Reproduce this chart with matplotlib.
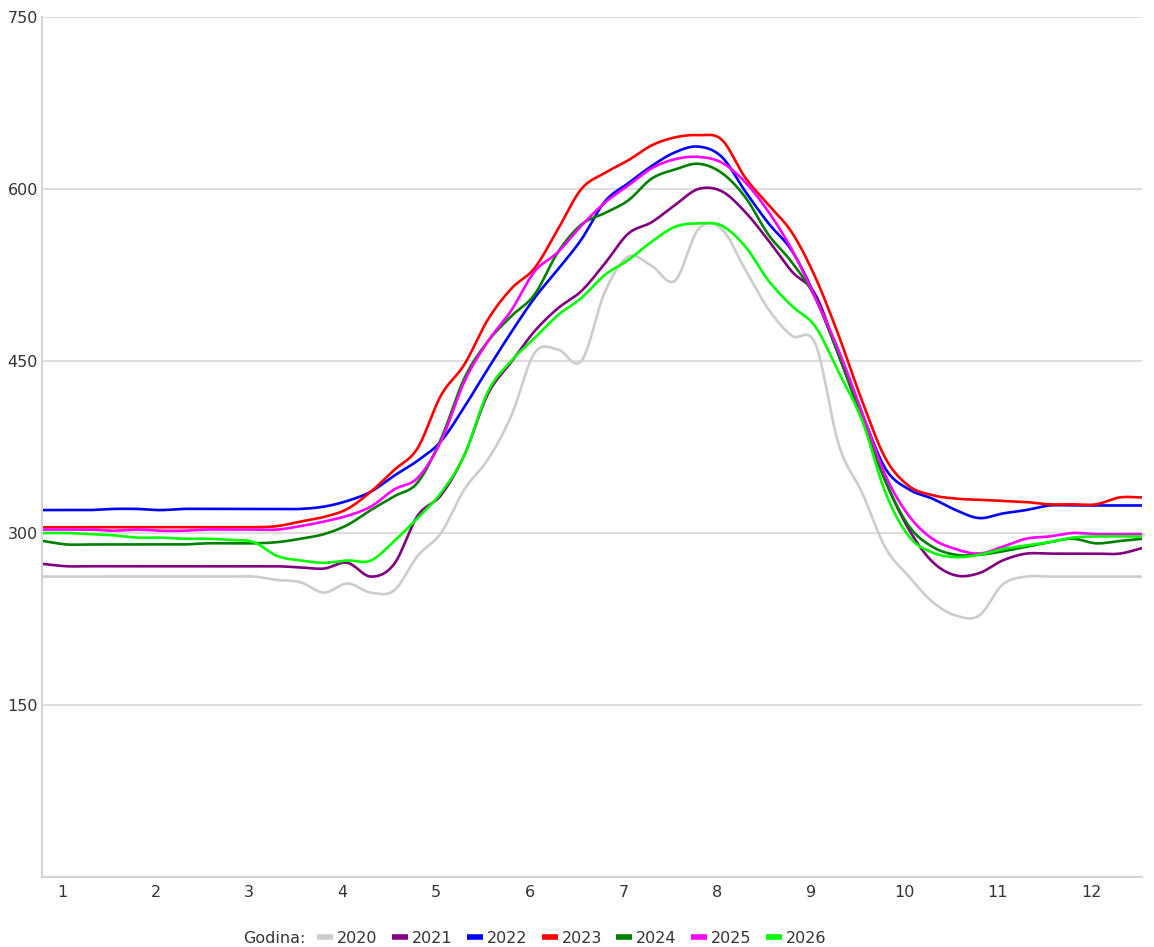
import numpy as np
import matplotlib
matplotlib.use("Agg")
import matplotlib.pyplot as plt

# x grid (months)
months = [0.8 + 0.25 * i for i in range(48)]

s2020 = [262, 262, 262, 262, 262, 262, 262, 262, 262, 262, 259, 257, 248, 256, 248, 250,
         280, 300, 338, 364, 402, 457, 460, 450, 510, 541, 533, 520, 565, 565, 530, 495,
         472, 465, 377, 335, 287, 262, 240, 228, 228, 255, 262, 262, 262, 262, 262, 262]
s2021 = [273, 271, 271, 271, 271, 271, 271, 271, 271, 271, 271, 270, 269, 274, 262, 273,
         315, 333, 368, 421, 449, 476, 496, 511, 535, 561, 571, 586, 600, 598, 580, 555,
         528, 508, 455, 400, 345, 303, 275, 263, 265, 276, 282, 282, 282, 282, 282, 287]
s2022 = [320, 320, 320, 321, 321, 320, 321, 321, 321, 321, 321, 321, 323, 328, 336, 350,
         363, 380, 410, 443, 475, 505, 530, 556, 589, 605, 620, 632, 637, 628, 598, 570,
         546, 506, 455, 404, 356, 338, 330, 320, 313, 317, 320, 324, 324, 324, 324, 324]
s2023 = [305, 305, 305, 305, 305, 305, 305, 305, 305, 305, 306, 310, 314, 321, 336, 355,
         374, 420, 447, 486, 513, 531, 565, 600, 614, 625, 638, 645, 647, 643, 610, 586,
         562, 523, 472, 415, 365, 341, 333, 330, 329, 328, 327, 325, 325, 325, 331, 331]
s2024 = [293, 290, 290, 290, 290, 290, 290, 291, 291, 291, 292, 295, 299, 307, 320, 332,
         344, 382, 435, 467, 489, 508, 545, 569, 579, 590, 609, 617, 622, 614, 593, 560,
         536, 505, 455, 400, 345, 306, 288, 281, 281, 284, 288, 292, 295, 291, 293, 295]
s2025 = [303, 303, 303, 302, 303, 302, 302, 303, 303, 303, 303, 306, 310, 315, 323, 338,
         348, 380, 432, 467, 494, 528, 545, 568, 588, 603, 618, 626, 628, 623, 606, 580,
         547, 505, 459, 405, 350, 315, 295, 286, 282, 288, 295, 297, 300, 299, 299, 299]
s2026 = [300, 300, 299, 298, 296, 296, 295, 295, 294, 292, 280, 276, 274, 276, 276, 293,
         313, 335, 368, 423, 450, 470, 490, 505, 525, 538, 554, 567, 570, 568, 550, 520,
         498, 480, 440, 398, 335, 297, 283, 279, 281, 286, 289, 292, 296, 297, 297, 297]

years = ["2020", "2021", "2022", "2023", "2024", "2025", "2026"]
series = [s2020, s2021, s2022, s2023, s2024, s2025, s2026]
colors = ["#cccccc", "#800080", "#0000ff", "#ff0000", "#008000", "#ff00ff", "#00ff00"]
yticks = [150, 300, 450, 600, 750]
xticks = list(range(1, 13))


def smooth(x, y, n=24):
    x = np.asarray(x, float)
    y = np.asarray(y, float)
    m = np.empty_like(y)
    m[1:-1] = (y[2:] - y[:-2]) / 2.0
    m[0] = y[1] - y[0]
    m[-1] = y[-1] - y[-2]
    xs, ys = [], []
    t = np.linspace(0, 1, n, endpoint=False)
    h00 = 2 * t**3 - 3 * t**2 + 1
    h10 = t**3 - 2 * t**2 + t
    h01 = -2 * t**3 + 3 * t**2
    h11 = t**3 - t**2
    for i in range(len(x) - 1):
        xs.append(x[i] + t * (x[i + 1] - x[i]))
        ys.append(h00 * y[i] + h10 * m[i] + h01 * y[i + 1] + h11 * m[i + 1])
    xs.append([x[-1]])
    ys.append([y[-1]])
    return np.concatenate(xs), np.concatenate(ys)


plt.rcParams["font.family"] = ["DejaVu Sans"]
fig = plt.figure(figsize=(11.54, 9.47), dpi=100)
ax = fig.add_axes([42 / 1154, 1 - 877 / 947, 1100 / 1154, 860 / 947])

handles = []
for yr, s, c in zip(years, series, colors):
    xs, ys = smooth(months, s)
    ln, = ax.plot(xs, ys, color=c, lw=1.9, solid_capstyle="round", label=yr)
    handles.append(ln)

ax.set_xlim(0.787, 12.54)
ax.set_ylim(0, 750)
ax.set_yticks(yticks)
ax.set_xticks(xticks)
ax.set_xticklabels([str(v) for v in xticks])
ax.grid(axis="y", color="#dddddd", lw=1.5)
ax.set_axisbelow(True)
for side in ["top", "right"]:
    ax.spines[side].set_visible(False)
for side in ["left", "bottom"]:
    ax.spines[side].set_color("#d3d3d3")
    ax.spines[side].set_linewidth(1.5)
ax.tick_params(axis="both", length=0, labelsize=11.5, labelcolor="#333333")
ax.tick_params(axis="y", pad=3)
ax.tick_params(axis="x", pad=6)

fig.text(305 / 1154, 1 - 938 / 947, "Godina:", ha="right", va="center",
         fontsize=11.5, color="#333333")
leg_handles = [plt.Line2D([], [], color=c, lw=4, solid_capstyle="butt") for c in colors]
fig.legend(leg_handles, years, loc="center left", bbox_to_anchor=(317 / 1154, 1 - 938 / 947),
           ncol=7, frameon=False, handlelength=1.0, handletextpad=0.25, columnspacing=0.9,
           borderpad=0, borderaxespad=0, fontsize=11.5, labelcolor="#333333")

fig.savefig("out.png", dpi=100)
